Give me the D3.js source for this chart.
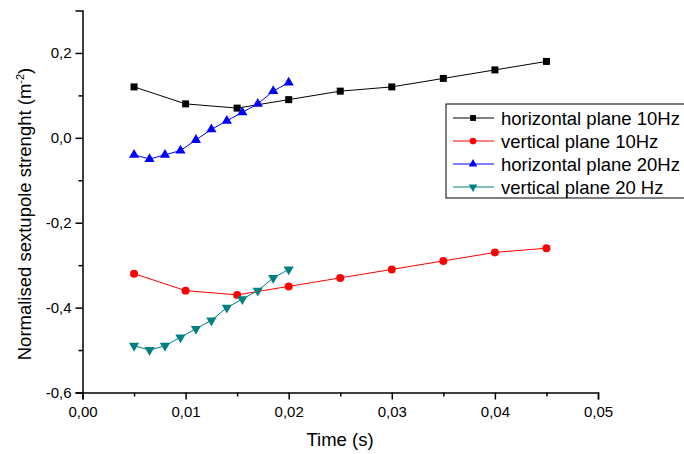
<html>
<head>
<script src="https://cdn.jsdelivr.net/npm/d3@7"></script>
<style>
  body { margin: 0; background: #fff; }
  text { font-family: "Liberation Sans", Arial, sans-serif; }
</style>
</head>
<body>
<svg width="684" height="454"></svg>
<script>
// data
var xTen = [0.005, 0.010, 0.015, 0.020, 0.025, 0.030, 0.035, 0.040, 0.045]
var hor10 = [0.12, 0.08, 0.07, 0.09, 0.11, 0.12, 0.14, 0.16, 0.18]
var ver10 = [-0.32, -0.36, -0.37, -0.35, -0.33, -0.31, -0.29, -0.27, -0.26]

var xTwenty = [0.005, 0.0065, 0.008, 0.0095, 0.011, 0.0125, 0.014, 0.0155, 0.017, 0.0185, 0.020]
var hor20 = [-0.04, -0.05, -0.04, -0.03, -0.005, 0.02, 0.04, 0.06, 0.08, 0.11, 0.13]
var ver20 = [-0.49, -0.50, -0.49, -0.47, -0.45, -0.43, -0.40, -0.38, -0.36, -0.33, -0.31]

var seriesNames = ['horizontal plane 10Hz', 'vertical plane 10Hz', 'horizontal plane 20Hz', 'vertical plane 20 Hz']
var seriesColors = ['#000000', '#ff0000', '#0000ff', '#008080']

var xTicks = [0, 0.01, 0.02, 0.03, 0.04, 0.05]
var xMinor = [0.005, 0.015, 0.025, 0.035, 0.045]
var yTicks = [-0.6, -0.4, -0.2, 0.0, 0.2]
var yMinor = [-0.5, -0.3, -0.1, 0.1]

var series = [
  {name: seriesNames[0], color: seriesColors[0], sym: d3.symbolSquare, size: 49, rot: 0, xs: xTen, ys: hor10},
  {name: seriesNames[1], color: seriesColors[1], sym: d3.symbolCircle, size: 50, rot: 0, xs: xTen, ys: ver10},
  {name: seriesNames[2], color: seriesColors[2], sym: d3.symbolTriangle, size: 45, rot: 0, xs: xTwenty, ys: hor20},
  {name: seriesNames[3], color: seriesColors[3], sym: d3.symbolTriangle, size: 45, rot: 180, xs: xTwenty, ys: ver20}
]

var svg = d3.select('svg')

var x = d3.scaleLinear().domain([0, 0.05]).range([82.5, 598])
var y = d3.scaleLinear().domain([-0.6, 0.3]).range([392.5, 10.5])

var fmt = function(n){ return n.toFixed(n === 0 || Math.abs(n) >= 0.1 ? 1 : 2).replace('.', ',') }

// x axis
var gx = svg.append('g').attr('transform', 'translate(0,' + y(-0.6) + ')')
gx.call(d3.axisBottom(x).tickValues(xTicks).tickSize(7).tickPadding(4)
  .tickFormat(function(d){ return d.toFixed(2).replace('.', ',') }))
gx.append('g').call(d3.axisBottom(x).tickValues(xMinor).tickSize(4).tickFormat(''))
  .select('.domain').remove()

// y axis
var gy = svg.append('g').attr('transform', 'translate(' + x(0) + ',0)')
gy.call(d3.axisLeft(y).tickValues(yTicks).tickSize(7).tickPadding(4)
  .tickFormat(function(d){ return d.toFixed(1).replace('.', ',').replace('-0,0', '0,0') }))
gy.append('g').call(d3.axisLeft(y).tickValues(yMinor).tickSize(4).tickFormat(''))
  .select('.domain').remove()

svg.selectAll('.domain').attr('stroke-width', 1.5)
svg.selectAll('.tick line').attr('stroke-width', 1.5)
svg.selectAll('.tick text').style('font-size', '15px').attr('fill', '#000')
gx.selectAll('.tick text').attr('dy', '0.9em')

// axis titles
svg.append('text')
  .attr('x', 340).attr('y', 446)
  .attr('text-anchor', 'middle')
  .style('font-size', '18.5px')
  .text('Time (s)')

var yl = svg.append('text')
  .attr('transform', 'translate(31,214) rotate(-90)')
  .attr('text-anchor', 'middle')
  .style('font-size', '18.5px')
yl.append('tspan').text('Normalised sextupole strenght (m')
yl.append('tspan').attr('dy', -7).style('font-size', '11px').text('-2')
yl.append('tspan').attr('dy', 7).text(')')

// lines and markers
var line = d3.line()
  .x(function(d){ return x(d[0]) })
  .y(function(d){ return y(d[1]) })

series.forEach(function(s){
  var pts = s.xs.map(function(v, i){ return [v, s.ys[i]] })
  svg.append('path')
    .attr('d', line(pts))
    .attr('fill', 'none')
    .attr('stroke', s.color)
    .attr('stroke-width', 1)
  svg.selectAll(null)
    .data(pts)
    .enter()
    .append('path')
    .attr('d', d3.symbol().type(s.sym).size(s.size))
    .attr('transform', function(d){
      return 'translate(' + x(d[0]) + ',' + y(d[1]) + ') rotate(' + s.rot + ')'
    })
    .attr('fill', s.color)
})

// legend
var lg = svg.append('g')
lg.append('rect')
  .attr('x', 446).attr('y', 104)
  .attr('width', 250).attr('height', 94)
  .attr('fill', '#fff').attr('stroke', '#000').attr('stroke-width', 1)

series.forEach(function(s, i){
  var cy = 118 + i * 23
  lg.append('line')
    .attr('x1', 453).attr('x2', 494)
    .attr('y1', cy).attr('y2', cy)
    .attr('stroke', s.color).attr('stroke-width', 1)
  lg.append('path')
    .attr('d', d3.symbol().type(s.sym).size(s.size * 0.7))
    .attr('transform', 'translate(473,' + cy + ') rotate(' + s.rot + ')')
    .attr('fill', s.color)
  lg.append('text')
    .attr('x', 501).attr('y', cy)
    .attr('dy', '0.36em')
    .style('font-size', '18.5px')
    .text(s.name)
})
</script>
</body>
</html>
